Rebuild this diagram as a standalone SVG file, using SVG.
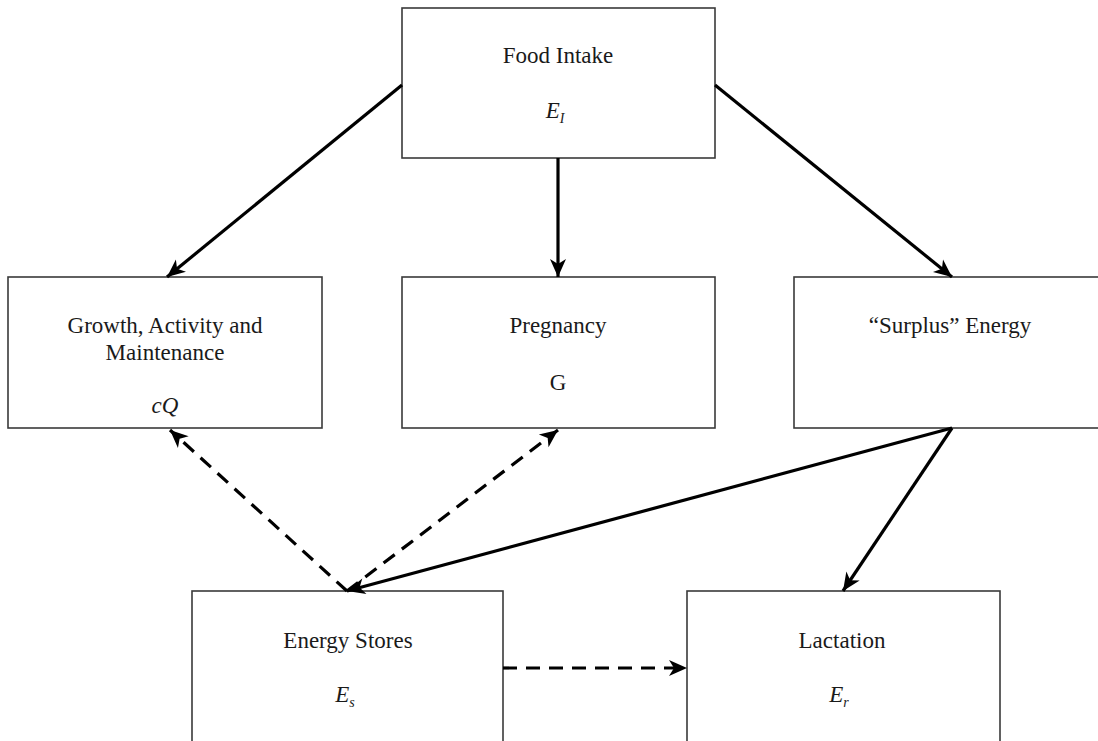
<svg xmlns="http://www.w3.org/2000/svg" width="1098" height="741" viewBox="0 0 1098 741">
  <defs>
    <marker id="ah" markerUnits="userSpaceOnUse" markerWidth="20" markerHeight="18" refX="18" refY="8" orient="auto" overflow="visible">
      <path d="M0,0 L18,8 L0,16 L5,8 z" fill="#000"/>
    </marker>
    <style>
      .box { fill: #fff; stroke: #3a3a3a; stroke-width: 1.6; }
      .lbl { font-family: "Liberation Serif", "Times New Roman", serif; font-size: 23px; fill: #1a1a1a; text-anchor: middle; }
      .sym { font-style: italic; }
      .sub { font-size: 14px; }
      .conn { stroke: #000; stroke-width: 3.2; fill: none; marker-end: url(#ah); }
      .dash { stroke-dasharray: 14 9; }
    </style>
  </defs>
  <rect width="1098" height="741" fill="#fff"/>

  <g id="food-intake">
    <rect class="box" x="402" y="8" width="313" height="150"/>
    <text class="lbl" x="558" y="63">Food Intake</text>
    <text class="lbl sym" x="555" y="118">E<tspan class="sub" dy="5">I</tspan></text>
  </g>

  <g id="growth">
    <rect class="box" x="8" y="277" width="314" height="151"/>
    <text class="lbl" x="165" y="333">Growth, Activity and</text>
    <text class="lbl" x="165" y="360">Maintenance</text>
    <text class="lbl sym" x="165" y="413">cQ</text>
  </g>

  <g id="pregnancy">
    <rect class="box" x="402" y="277" width="313" height="151"/>
    <text class="lbl" x="558" y="333">Pregnancy</text>
    <text class="lbl" x="558" y="390">G</text>
  </g>

  <g id="surplus">
    <rect class="box" x="794" y="277" width="313" height="151"/>
    <text class="lbl" x="950" y="333">“Surplus” Energy</text>
  </g>

  <g id="energy-stores">
    <rect class="box" x="192" y="591" width="311" height="160"/>
    <text class="lbl" x="348" y="648">Energy Stores</text>
    <text class="lbl sym" x="345" y="702">E<tspan class="sub" dy="5">s</tspan></text>
  </g>

  <g id="lactation">
    <rect class="box" x="687" y="591" width="313" height="160"/>
    <text class="lbl" x="842" y="648">Lactation</text>
    <text class="lbl sym" x="839" y="702">E<tspan class="sub" dy="5">r</tspan></text>
  </g>

  <g id="connectors">
    <line class="conn" x1="402" y1="85" x2="167" y2="277"/>
    <line class="conn" x1="558" y1="158" x2="558" y2="277"/>
    <line class="conn" x1="715" y1="85" x2="952" y2="277"/>
    <line class="conn" x1="952" y1="428" x2="347" y2="591"/>
    <line class="conn" x1="952" y1="428" x2="843" y2="591"/>
    <line class="conn dash" x1="347" y1="591" x2="170" y2="430"/>
    <line class="conn dash" x1="347" y1="591" x2="558" y2="430"/>
    <line class="conn dash" x1="503" y1="668" x2="687" y2="668"/>
  </g>
</svg>
